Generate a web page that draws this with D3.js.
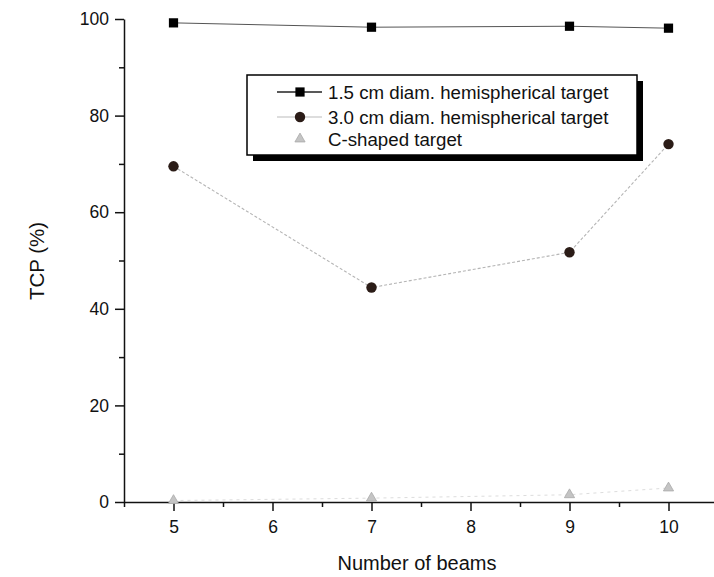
<!DOCTYPE html>
<html>
<head>
<meta charset="utf-8">
<script src="https://cdn.jsdelivr.net/npm/d3@7"></script>
<style>
  body { margin: 0; background: #fff; }
  text { font-family: "Liberation Sans", Arial, sans-serif; fill: #111; }
  .axis path, .axis line { stroke: #111; stroke-width: 1.5; }
  .axis text { font-size: 17.5px; }
</style>
</head>
<body>
<div id="chart"></div>
<script>
// values

var beams = [5, 7, 9, 10];

var tcpSmall = [99.2, 98.3, 98.5, 98.1];  // 1.5 cm hemispherical
var tcpLarge = [69.5, 44.4, 51.7, 74.1];  // 3.0 cm hemispherical
var tcpC = [0.3, 0.8, 1.5, 2.9];          // C-shaped

var seriesNames = ["1.5 cm diam. hemispherical target", "3.0 cm diam. hemispherical target", "C-shaped target"];

var xTicks = [5, 6, 7, 8, 9, 10];
var xMinor = [4.5, 5.5, 6.5, 7.5, 8.5, 9.5];
var yTicks = [0, 20, 40, 60, 80, 100];
var yMinor = [10, 30, 50, 70, 90];

// set width and height constants

var width = 714;
var height = 577;

// define scales

var xScale = d3.scaleLinear()
.domain([4.5, 10.5])
.range([124, 718]);

var yScale = d3.scaleLinear()
.domain([0, 100])
.range([502, 19]);

var svg = d3.select("#chart").append("svg")
.attr("width", width)
.attr("height", height);

// axes

svg.append("g")
.attr("class", "x axis")
.attr("transform", "translate(0," + yScale(0) + ")")
.call(d3.axisBottom(xScale).tickValues(xTicks).tickSize(9).tickSizeOuter(0).tickPadding(10).tickFormat(d3.format("d")));

svg.append("g")
.attr("class", "x axis minor")
.attr("transform", "translate(0," + yScale(0) + ")")
.call(d3.axisBottom(xScale).tickValues(xMinor).tickSize(5).tickSizeOuter(0).tickFormat(""));

svg.append("g")
.attr("class", "y axis")
.attr("transform", "translate(" + xScale(4.5) + ",0)")
.call(d3.axisLeft(yScale).tickValues(yTicks).tickSize(9).tickSizeOuter(0).tickPadding(6));

svg.append("g")
.attr("class", "y axis minor")
.attr("transform", "translate(" + xScale(4.5) + ",0)")
.call(d3.axisLeft(yScale).tickValues(yMinor).tickSize(5).tickSizeOuter(0).tickFormat(""));

svg.selectAll(".minor path").remove();

// axis titles

svg.append("text")
.attr("x", 417)
.attr("y", 570)
.attr("text-anchor", "middle")
.style("font-size", "20px")
.text("Number of beams");

svg.append("text")
.attr("transform", "translate(44," + 261 + ") rotate(-90)")
.attr("text-anchor", "middle")
.style("font-size", "20.5px")
.text("TCP (%)");

// lines

function toPoints(vals) {
  return beams.map(function(b, i) { return { x: b, y: vals[i] }; });
}

var line = d3.line()
.x(function(d) { return xScale(d.x); })
.y(function(d) { return yScale(d.y); });

svg.append("path")
.datum(toPoints(tcpC))
.attr("d", line)
.attr("fill", "none")
.attr("stroke", "#ddd")
.attr("stroke-width", 1)
.attr("stroke-dasharray", "3,4");

svg.append("path")
.datum(toPoints(tcpLarge))
.attr("d", line)
.attr("fill", "none")
.attr("stroke", "#b5b5b5")
.attr("stroke-width", 1.1)
.attr("stroke-dasharray", "3,2");

svg.append("path")
.datum(toPoints(tcpSmall))
.attr("d", line)
.attr("fill", "none")
.attr("stroke", "#555")
.attr("stroke-width", 1);

// markers

var square = d3.symbol().type(d3.symbolSquare).size(85);
var circle = d3.symbol().type(d3.symbolCircle).size(85);
var triangle = d3.symbol().type(d3.symbolTriangle).size(45);

svg.selectAll(".sq")
.data(toPoints(tcpSmall))
.enter().append("path")
.attr("class", "sq")
.attr("d", square)
.attr("transform", function(d) { return "translate(" + xScale(d.x) + "," + yScale(d.y) + ")"; })
.attr("fill", "#000");

svg.selectAll(".dot")
.data(toPoints(tcpLarge))
.enter().append("path")
.attr("class", "dot")
.attr("d", circle)
.attr("transform", function(d) { return "translate(" + xScale(d.x) + "," + yScale(d.y) + ")"; })
.attr("fill", "#2b1c17");

svg.selectAll(".tri")
.data(toPoints(tcpC))
.enter().append("path")
.attr("class", "tri")
.attr("d", triangle)
.attr("transform", function(d) { return "translate(" + xScale(d.x) + "," + yScale(d.y) + ")"; })
.attr("fill", "#c4c4c4")
.attr("stroke", "#aaa")
.attr("stroke-width", 0.8);

// legend box with drop shadow

var legend = svg.append("g").attr("transform", "translate(247,75)");

legend.append("rect")
.attr("x", 6).attr("y", 6)
.attr("width", 390).attr("height", 80)
.attr("fill", "#000");

legend.append("rect")
.attr("x", 0).attr("y", 0)
.attr("width", 390).attr("height", 80)
.attr("fill", "#fff")
.attr("stroke", "#000")
.attr("stroke-width", 1.5);

var rowY = [17, 42, 64];
var markers = [square, circle, triangle];
var fills = ["#000", "#2b1c17", "#c4c4c4"];
var strokes = ["#222", "#bbb", null];

seriesNames.forEach(function(name, i) {
  if (strokes[i]) {
    legend.append("line")
    .attr("x1", 30).attr("x2", 75)
    .attr("y1", rowY[i]).attr("y2", rowY[i])
    .attr("stroke", strokes[i])
    .attr("stroke-width", i === 0 ? 1.3 : 1);
  }
  legend.append("path")
  .attr("d", markers[i])
  .attr("transform", "translate(53," + rowY[i] + ")")
  .attr("fill", fills[i])
  .attr("stroke", i === 2 ? "#aaa" : null)
  .attr("stroke-width", 0.8);
  legend.append("text")
  .attr("x", 81)
  .attr("y", rowY[i])
  .attr("dy", "0.36em")
  .style("font-size", "18.7px")
  .text(name);
});
</script>
</body>
</html>
